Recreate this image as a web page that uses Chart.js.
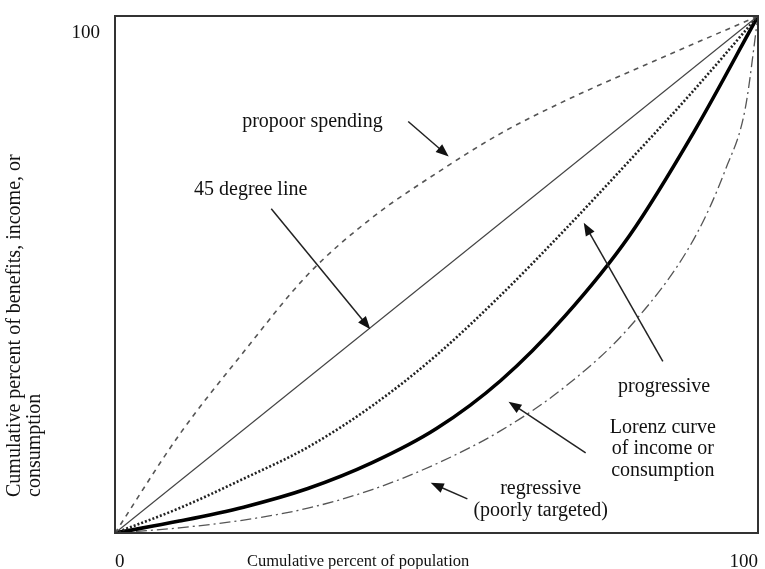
<!DOCTYPE html>
<html>
<head>
<meta charset="utf-8">
<script src="https://cdn.jsdelivr.net/npm/chart.js@4.4.1/dist/chart.umd.min.js"></script>
<style>
    html, body { margin: 0; padding: 0; background: #fff; }
    #wrap { width: 765px; height: 569px; position: relative; }
</style>
</head>
<body>
<div id="wrap"><canvas id="lorenz-chart"></canvas></div>
<script>
// Values (cumulative % of population -> cumulative % of benefits)
const popPct = [0, 10, 20, 30, 40, 50, 60, 70, 80, 90, 100];
const propoorPct = [0, 19, 35, 50, 61, 69.6, 77.3, 83.6, 89.2, 94.6, 100];
const progressivePct = [0, 4.8, 10.5, 16.6, 24.6, 34.4, 46, 58.7, 72, 85.6, 100];
const lorenzPct = [0, 2.3, 5.0, 8.6, 13.6, 20.2, 29.5, 42, 57.5, 77.5, 100];

const diagPop = [0, 100];
const diagPct = [0, 100];

const regPop = [0, 10, 20, 30, 40, 50, 60, 70, 80, 90, 95, 98, 100];
const regressivePct = [0, 1, 2.5, 4.8, 8.4, 13.4, 19.8, 28.3, 39.8, 56.8, 70.5, 82, 100];

const xTicks = ['0', '100'];
const yTicks = ['100'];
const xTitle = 'Cumulative percent of population';
const yTitle = ['Cumulative percent of benefits, income, or', 'consumption'];

// Labels with arrows, placed in data units
const notes = [
    { lines: ['propoor spending'], at: [30.7, 79.6], from: [45.6, 79.6], to: [51.9, 72.8] },
    { lines: ['45 degree line'], at: [21.1, 66.4], from: [24.3, 62.7], to: [39.7, 39.4] },
    { lines: ['progressive'], at: [85.4, 28.3], from: [85.2, 33.2], to: [72.9, 60.0] },
    { lines: ['Lorenz curve', 'of income or', 'consumption'], at: [85.2, 20.4], from: [73.2, 15.5], to: [61.2, 25.4] },
    { lines: ['regressive', '(poorly targeted)'], at: [66.2, 8.5], from: [54.8, 6.6], to: [49.1, 9.7] }
];

const SERIF = '"Liberation Serif", "DejaVu Serif", serif';

function toPoints(xs, ys) {
    return xs.map((x, i) => ({ x: x, y: ys[i] }));
}

function drawArrow(ctx, x1, y1, x2, y2) {
    const ang = Math.atan2(y2 - y1, x2 - x1);
    const len = 13, half = 5;
    ctx.beginPath();
    ctx.moveTo(x1, y1);
    ctx.lineTo(x2 - Math.cos(ang) * len * 0.8, y2 - Math.sin(ang) * len * 0.8);
    ctx.stroke();
    ctx.beginPath();
    ctx.moveTo(x2, y2);
    ctx.lineTo(x2 - Math.cos(ang) * len + Math.sin(ang) * half, y2 - Math.sin(ang) * len - Math.cos(ang) * half);
    ctx.lineTo(x2 - Math.cos(ang) * len - Math.sin(ang) * half, y2 - Math.sin(ang) * len + Math.cos(ang) * half);
    ctx.closePath();
    ctx.fill();
}

// box, axis titles and the arrow notes
const decorPlugin = {
    id: 'decor',
    afterDraw(chart) {
        const ctx = chart.ctx;
        const area = chart.chartArea;
        const xs = chart.scales.x, ys = chart.scales.y;
        ctx.save();

        ctx.strokeStyle = '#333';
        ctx.lineWidth = 2;
        ctx.strokeRect(area.left, area.top, area.right - area.left, area.bottom - area.top);

        ctx.fillStyle = '#111';
        ctx.font = '16.5px ' + SERIF;
        ctx.textAlign = 'left';
        ctx.textBaseline = 'middle';
        ctx.fillText(xTitle, 247, 562);

        ctx.save();
        ctx.rotate(-Math.PI / 2);
        ctx.font = '20px ' + SERIF;
        ctx.textAlign = 'left';
        yTitle.forEach((t, i) => ctx.fillText(t, -497, 15 + i * 20));
        ctx.restore();

        ctx.font = '20px ' + SERIF;
        ctx.textAlign = 'center';
        ctx.strokeStyle = '#222';
        ctx.fillStyle = '#111';
        ctx.lineWidth = 1.5;
        notes.forEach(n => {
            const cx = xs.getPixelForValue(n.at[0]);
            const cy = ys.getPixelForValue(n.at[1]);
            n.lines.forEach((t, i) => ctx.fillText(t, cx, cy + i * 21.5));
            drawArrow(ctx,
                xs.getPixelForValue(n.from[0]), ys.getPixelForValue(n.from[1]),
                xs.getPixelForValue(n.to[0]), ys.getPixelForValue(n.to[1]));
        });
        ctx.restore();
    }
};

const ctx = document.getElementById('lorenz-chart').getContext('2d');

new Chart(ctx, {
    type: 'line',
    data: {
        datasets: [
            {
                label: '45 degree line',
                data: toPoints(diagPop, diagPct),
                borderColor: '#444',
                borderWidth: 1.3
            },
            {
                label: 'propoor spending',
                data: toPoints(popPct, propoorPct),
                borderColor: '#555',
                borderWidth: 1.6,
                borderDash: [5, 5]
            },
            {
                label: 'progressive',
                data: toPoints(popPct, progressivePct),
                borderColor: '#222',
                borderWidth: 2.6,
                borderDash: [2, 2]
            },
            {
                label: 'Lorenz curve',
                data: toPoints(popPct, lorenzPct),
                borderColor: '#000',
                borderWidth: 3.6
            },
            {
                label: 'regressive',
                data: toPoints(regPop, regressivePct),
                borderColor: '#555',
                borderWidth: 1.3,
                borderDash: [11, 4, 2, 4]
            }
        ]
    },
    options: {
        responsive: true,
        maintainAspectRatio: false,
        animation: false,
        layout: { padding: { left: 0, top: 16, right: 7, bottom: 0 } },
        elements: {
            point: { radius: 0 },
            line: { cubicInterpolationMode: 'monotone', fill: false }
        },
        scales: {
            x: {
                type: 'linear',
                min: 0,
                max: 100,
                grid: { display: false, drawTicks: false },
                border: { display: false },
                afterBuildTicks: s => { s.ticks = [{ value: 0 }, { value: 100 }]; },
                afterFit: s => { s.height = 36; s.paddingLeft = 0; s.paddingRight = 0; },
                ticks: {
                    align: 'inner',
                    padding: 18,
                    color: '#111',
                    font: { family: SERIF, size: 19 },
                    callback: (v, i) => xTicks[i]
                }
            },
            y: {
                type: 'linear',
                min: 0,
                max: 100,
                grid: { display: false, drawTicks: false },
                border: { display: false },
                afterBuildTicks: s => { s.ticks = [{ value: 100 }]; },
                afterFit: s => { s.width = 115; s.paddingTop = 0; s.paddingBottom = 0; },
                ticks: {
                    padding: 15,
                    labelOffset: 17,
                    color: '#111',
                    font: { family: SERIF, size: 19 },
                    callback: (v, i) => yTicks[i]
                }
            }
        },
        plugins: {
            legend: { display: false },
            tooltip: { enabled: false }
        }
    },
    plugins: [decorPlugin]
});
</script>
</body>
</html>
